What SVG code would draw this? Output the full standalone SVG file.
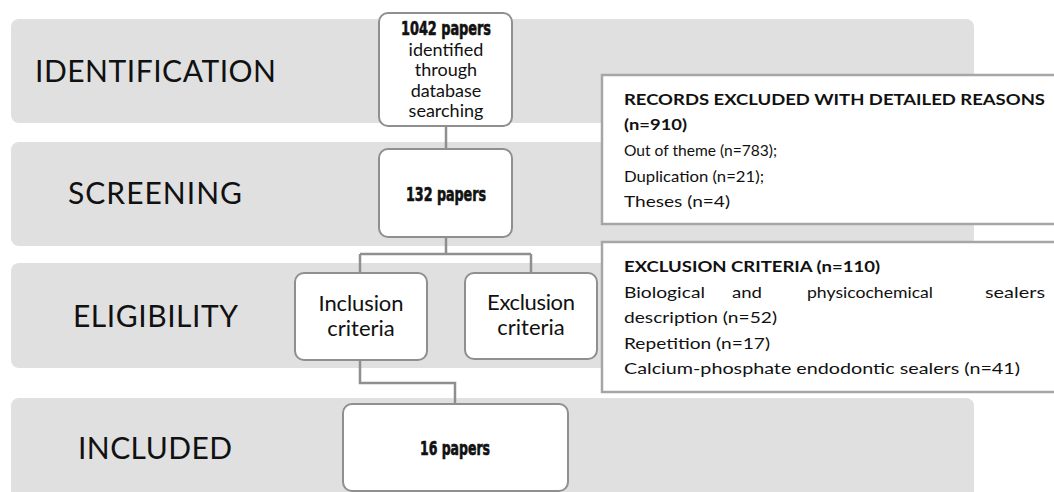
<svg xmlns="http://www.w3.org/2000/svg" width="1054" height="492" viewBox="0 0 1054 492">
<style>
.band{fill:#e0e0e0;}
.node{fill:#ffffff;stroke:#8f8f8f;stroke-width:2;}
.note{fill:#ffffff;stroke:#a6a6a6;stroke-width:2.5;}
.conn{fill:none;stroke:#8f8f8f;stroke-width:2.5;}
.stage{font-family:Lato,"Open Sans",sans-serif;font-size:30px;fill:#111;}
.big{font-family:"DejaVu Sans",sans-serif;font-stretch:condensed;font-weight:bold;font-size:19px;fill:#111;stroke:#111;stroke-width:0.6;text-anchor:middle;}
.mid{font-family:Lato,"Open Sans",sans-serif;font-size:18px;fill:#111;text-anchor:middle;}
.crit{font-family:Lato,"Open Sans",sans-serif;font-size:22px;fill:#111;text-anchor:middle;}
.tx{font-family:Lato,"Open Sans",sans-serif;font-size:16px;fill:#111;}
.b{font-weight:bold;}
</style>
<g id="bands">
<rect class="band" x="11" y="19" width="963" height="104" rx="8"/>
<rect class="band" x="11" y="142" width="963" height="104" rx="8"/>
<rect class="band" x="11" y="263" width="963" height="105" rx="8"/>
<rect class="band" x="11" y="398" width="963" height="110" rx="8"/>
<text class="stage" x="35" y="82" textLength="241">IDENTIFICATION</text>
<text class="stage" x="68" y="204" textLength="174">SCREENING</text>
<text class="stage" x="73" y="327" textLength="165">ELIGIBILITY</text>
<text class="stage" x="78" y="459" textLength="154">INCLUDED</text>
</g>
<g id="connectors">
<path class="conn" d="M446 126 V149"/>
<path class="conn" d="M446 237 V254 M360 254 H531 M360 254 V273 M531 254 V273"/>
<path class="conn" d="M360 360 V383 H455 V404"/>
</g>
<g id="node-identified">
<rect class="node" x="379" y="13" width="133" height="113" rx="9"/>
<text class="big" x="446" y="35" textLength="90" lengthAdjust="spacingAndGlyphs">1042 papers</text>
<text class="mid" x="446" y="56">identified</text>
<text class="mid" x="446" y="76">through</text>
<text class="mid" x="446" y="97">database</text>
<text class="mid" x="446" y="117">searching</text>
</g>
<g id="node-screened">
<rect class="node" x="379" y="149" width="133" height="88" rx="9"/>
<text class="big" x="446" y="201" textLength="80" lengthAdjust="spacingAndGlyphs">132 papers</text>
</g>
<g id="node-inclusion">
<rect class="node" x="295" y="273" width="132" height="87" rx="9"/>
<text class="crit" x="361" y="311" textLength="85">Inclusion</text>
<text class="crit" x="361" y="336">criteria</text>
</g>
<g id="node-exclusion">
<rect class="node" x="465" y="273" width="132" height="86" rx="9"/>
<text class="crit" x="531" y="310" textLength="88">Exclusion</text>
<text class="crit" x="531" y="335">criteria</text>
</g>
<g id="node-included">
<rect class="node" x="343" y="404" width="225" height="87" rx="9"/>
<text class="big" x="455" y="455" textLength="70" lengthAdjust="spacingAndGlyphs">16 papers</text>
</g>
<g id="note-records">
<rect class="note" x="602" y="75" width="470" height="149"/>
<text class="tx b" x="624" y="105" textLength="421" lengthAdjust="spacingAndGlyphs">RECORDS EXCLUDED WITH DETAILED REASONS</text>
<text class="tx b" x="624" y="130" textLength="63" lengthAdjust="spacingAndGlyphs">(n=910)</text>
<text class="tx" x="624" y="156" textLength="153" lengthAdjust="spacingAndGlyphs">Out of theme (n=783);</text>
<text class="tx" x="624" y="182" textLength="140" lengthAdjust="spacingAndGlyphs">Duplication (n=21);</text>
<text class="tx" x="624" y="207" textLength="106" lengthAdjust="spacingAndGlyphs">Theses (n=4)</text>
</g>
<g id="note-exclusion">
<rect class="note" x="602" y="242" width="470" height="150"/>
<text class="tx b" x="624" y="272" textLength="256" lengthAdjust="spacingAndGlyphs">EXCLUSION CRITERIA (n=110)</text>
<text class="tx" x="624" y="298" textLength="81" lengthAdjust="spacingAndGlyphs">Biological</text>
<text class="tx" x="732" y="298" textLength="30" lengthAdjust="spacingAndGlyphs">and</text>
<text class="tx" x="807" y="298" textLength="126" lengthAdjust="spacingAndGlyphs">physicochemical</text>
<text class="tx" x="985" y="298" textLength="60" lengthAdjust="spacingAndGlyphs">sealers</text>
<text class="tx" x="624" y="323" textLength="153" lengthAdjust="spacingAndGlyphs">description (n=52)</text>
<text class="tx" x="624" y="349" textLength="146" lengthAdjust="spacingAndGlyphs">Repetition (n=17)</text>
<text class="tx" x="624" y="374" textLength="396" lengthAdjust="spacingAndGlyphs">Calcium-phosphate endodontic sealers (n=41)</text>
</g>
</svg>
